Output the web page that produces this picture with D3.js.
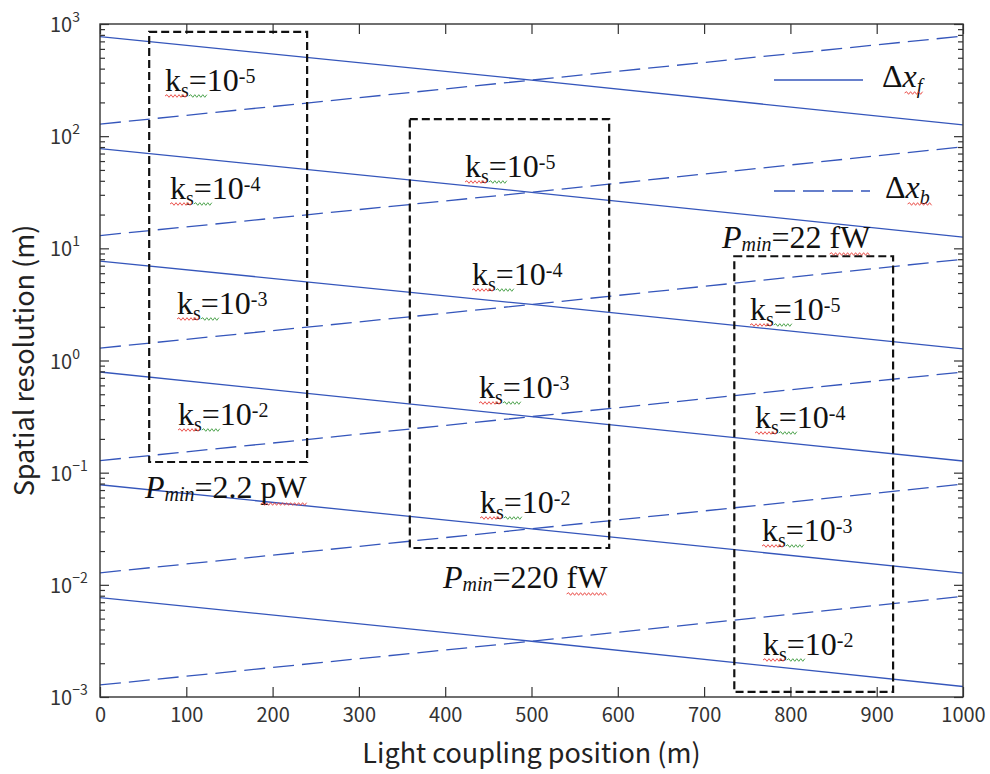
<!DOCTYPE html>
<html><head><meta charset="utf-8">
<script src="https://cdn.jsdelivr.net/npm/d3@7"></script>
<style>body{margin:0;background:#fff}svg{display:block}</style>
</head><body>
<svg id="c" width="990" height="774"></svg>
<script>
// ---------- data ----------
const positions = [0, 500, 1000];                 // light coupling position (m)
// Δx_f (solid, decreasing) values at the positions above
const dxF = [
  [771, 316, 126],
  [77.5, 31.6, 12.6],
  [7.7, 3.16, 1.27],
  [0.79, 0.316, 0.127],
  [0.078, 0.0316, 0.0127],
  [0.0077, 0.00314, 0.00124]
];
// Δx_b (dashed, increasing) values at the positions above
const dxB = [
  [128, 316, 781],
  [13.0, 31.6, 80.5],
  [1.29, 3.16, 8.0],
  [0.128, 0.316, 0.79],
  [0.0128, 0.0316, 0.079],
  [0.00128, 0.00314, 0.0079]
];
const xTicks = [0,100,200,300,400,500,600,700,800,900,1000];
const yDecades = [-3,-2,-1,0,1,2,3];
const boxes = [ // [x0, x1, yTop, yBottom] in data units
  [57, 240, 850, 0.1245],
  [359, 590, 142, 0.0213],
  [735, 919, 8.5, 0.00111]
];
const ksExps = ["-5","-4","-3","-2"];
const ksLabelPos = [ // pixel anchors (left, baseline)
  [[165,91],[170,199],[177,314],[178,425]],
  [[465,177],[472,285],[479,398],[480,513]],
  [[750,320],[755,428],[762,541],[763,655]]
];
const pminLabels = [["2.2 pW",145,498],["220 fW",443,588],["22 fW",722,248]];

// ---------- layout ----------
const svg = d3.select("#c");
const L = 100, R = 963, T = 24, B = 697;
const x = d3.scaleLinear().domain([0,1000]).range([L,R]);
const y = d3.scaleLog().domain([1e-3,1e3]).range([B,T]);
const lineCol = "#3556bb";
const axCol = "#333";
const serif = "'Liberation Serif','Times New Roman',serif";
const sans = "'Noto Sans CJK JP','Noto Sans',sans-serif";

svg.append("defs").append("clipPath").attr("id","clip")
  .append("rect").attr("x",L).attr("y",T).attr("width",R-L).attr("height",B-T);

const line = d3.line().x((d,i)=>x(positions[i])).y(d=>y(d));
const gl = svg.append("g").attr("clip-path","url(#clip)");
dxF.forEach(s=>gl.append("path").attr("d",line(s)).attr("fill","none")
  .attr("stroke",lineCol).attr("stroke-width",1.3));
dxB.forEach(s=>gl.append("path").attr("d",line(s)).attr("fill","none")
  .attr("stroke",lineCol).attr("stroke-width",1.3).attr("stroke-dasharray","21,8"));

// ---------- axes ----------
const minor = [];
for (let e=-3;e<3;e++) for (let m=2;m<=9;m++) minor.push(m*Math.pow(10,e));
const major = yDecades.map(e=>Math.pow(10,e));

function styleAxis(g){
  g.select(".domain").remove();
  g.selectAll(".tick line").attr("stroke",axCol).attr("stroke-width",1.2);
  g.selectAll(".tick text").attr("fill",axCol).attr("font-family",sans).attr("font-size",20);
}
svg.append("g").attr("transform",`translate(0,${B})`)
  .call(d3.axisBottom(x).tickValues(xTicks).tickSize(-10).tickPadding(11).tickFormat(d3.format("d")))
  .call(styleAxis);
svg.append("g").attr("transform",`translate(0,${T})`)
  .call(d3.axisTop(x).tickValues(xTicks).tickSize(-10).tickFormat(""))
  .call(styleAxis);
svg.append("g").attr("transform",`translate(${L},0)`)
  .call(d3.axisLeft(y).tickValues(major).tickSize(-9).tickFormat("")).call(styleAxis);
svg.append("g").attr("transform",`translate(${L},0)`)
  .call(d3.axisLeft(y).tickValues(minor).tickSize(-5).tickFormat("")).call(styleAxis);
svg.append("g").attr("transform",`translate(${R},0)`)
  .call(d3.axisRight(y).tickValues(major).tickSize(-9).tickFormat("")).call(styleAxis);
svg.append("g").attr("transform",`translate(${R},0)`)
  .call(d3.axisRight(y).tickValues(minor).tickSize(-5).tickFormat("")).call(styleAxis);
svg.append("rect").attr("x",L).attr("y",T).attr("width",R-L).attr("height",B-T)
  .attr("fill","none").attr("stroke",axCol).attr("stroke-width",1.4);

// y tick labels 10^n
yDecades.forEach(e=>{
  const t = svg.append("text").attr("x",50).attr("y",y(Math.pow(10,e))+8)
    .attr("font-family",sans).attr("font-size",20).attr("fill",axCol);
  t.append("tspan").text("10");
  t.append("tspan").attr("font-size",14).attr("dy",-10).text(e<0?"\u2212"+(-e):String(e));
});

// axis titles
svg.append("text").attr("x",(L+R)/2).attr("y",763).attr("text-anchor","middle")
  .attr("font-family",sans).attr("font-size",27).attr("fill","#222")
  .text("Light coupling position (m)");
svg.append("text").attr("transform",`translate(34,${(T+B)/2}) rotate(-90)`)
  .attr("text-anchor","middle").attr("font-family",sans).attr("font-size",27).attr("fill","#222")
  .text("Spatial resolution (m)");

// ---------- annotation boxes ----------
boxes.forEach(b=>{
  svg.append("rect").attr("x",x(b[0])).attr("y",y(b[2]))
    .attr("width",x(b[1])-x(b[0])).attr("height",y(b[3])-y(b[2]))
    .attr("fill","none").attr("stroke","#111").attr("stroke-width",2.2)
    .attr("stroke-dasharray","8,4");
});

function squiggle(x1,x2,yy,col){
  let d = `M${x1},${yy}`; let up = true;
  for (let xx=x1+2; xx<=x2; xx+=2){ d += `L${xx},${yy+(up?-1.3:1.3)}`; up=!up; }
  svg.append("path").attr("d",d).attr("fill","none").attr("stroke",col).attr("stroke-width",0.9);
}
const RED="#e8403a", GREEN="#3c9a3c";

// k_s labels
ksLabelPos.forEach(col=>col.forEach((p,i)=>{
  const t = svg.append("text").attr("x",p[0]).attr("y",p[1])
    .attr("font-family",serif).attr("font-size",32).attr("fill","#111");
  t.append("tspan").text("k");
  t.append("tspan").attr("font-size",20).attr("dy",6).text("s");
  t.append("tspan").attr("dy",-6).text("=10");
  t.append("tspan").attr("font-size",20).attr("dy",-8).text(ksExps[i]);
  const n=t.node(), e0=n.getExtentOfChar(0), e1=n.getExtentOfChar(1), e2=n.getExtentOfChar(2);
  squiggle(e0.x, e1.x+e1.width, p[1]+5, RED);
  squiggle(e1.x+e1.width, e2.x+e2.width, p[1]+5, GREEN);
}));

// P_min labels
pminLabels.forEach(p=>{
  const t = svg.append("text").attr("x",p[1]).attr("y",p[2])
    .attr("font-family",serif).attr("font-size",32).attr("fill","#111");
  t.append("tspan").attr("font-style","italic").text("P");
  t.append("tspan").attr("font-style","italic").attr("font-size",20).attr("dy",3).text("min");
  t.append("tspan").attr("dy",-3).text("="+p[0]);
  const n=t.node(), k=n.getNumberOfChars(), a=n.getExtentOfChar(k-2), b=n.getExtentOfChar(k-1);
  squiggle(a.x, b.x+b.width, p[2]+6, RED);
});

// legend
const legend = [["f",80,87,null],["b",191,198,"21,8"]];
legend.forEach(l=>{
  svg.append("line").attr("x1",774).attr("x2",l[0]==="f"?863:870).attr("y1",l[1]).attr("y2",l[1])
    .attr("stroke",lineCol).attr("stroke-width",1.3).attr("stroke-dasharray",l[3]);
  const t = svg.append("text").attr("x",l[0]==="f"?882:885).attr("y",l[2])
    .attr("font-family",serif).attr("font-size",32).attr("fill","#111");
  t.append("tspan").text("\u0394");
  t.append("tspan").attr("font-style","italic").text("x");
  t.append("tspan").attr("font-style","italic").attr("font-size",20).attr("dy",6).text(l[0]);
  const n=t.node(), a=n.getExtentOfChar(1), b=n.getExtentOfChar(2);
  squiggle(a.x+2, b.x+b.width+2, l[2]+6, RED);
});
</script>
</body></html>
